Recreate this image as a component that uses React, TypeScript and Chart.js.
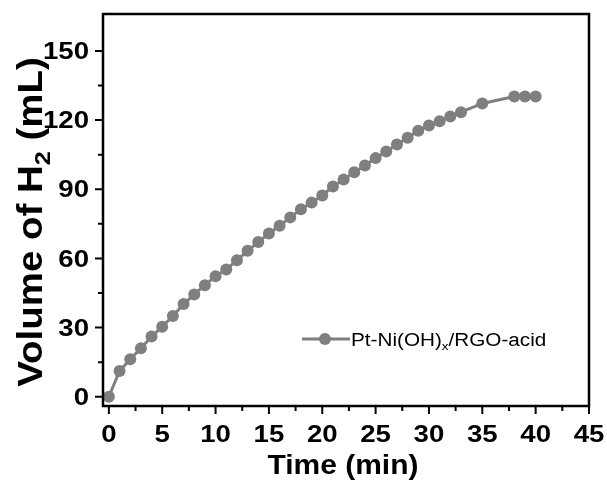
import React, { useEffect, useRef } from "react";
import { Chart, registerables } from "chart.js";

Chart.register(...registerables);

const timeMin: number[] = [0,1,2,3,4,5,6,7,8,9,10,11,12,13,14,15,16,17,18,19,20,21,22,23,24,25,26,27,28,29,30,31,32,33,35,38,39,40];
const volumeMl: number[] = [0,11.2,16.3,21,26.1,30.4,35,40.2,44.4,48.4,52.3,55.2,59.2,63.3,67.1,70.8,74.2,77.8,81.3,84.2,87.3,91.2,94.2,97.4,100.3,103.5,106.4,109.4,112.3,115.4,117.6,119.5,121.5,123.4,127.2,130.2,130.2,130.2];
const xTicks: number[] = [0,5,10,15,20,25,30,35,40,45];
const xMinorTicks: number[] = [2.5,7.5,12.5,17.5,22.5,27.5,32.5,37.5,42.5];
const yTicks: number[] = [0,30,60,90,120,150];
const yMinorTicks: number[] = [15,45,75,105,135];
const seriesLabel = ["Pt-Ni(OH)", "x", "/RGO-acid"];
const yTitleParts = ["Volume of H", "2", " (mL)"];
const xTitle = "Time (min)";

const FONT = '"Liberation Sans", Arial, sans-serif';
const GRAY = "#7f7f7f";

type Part = { t: string; sub?: boolean };

function richWidth(ctx: CanvasRenderingContext2D, parts: Part[], size: number, weight: string) {
  let w = 0;
  for (const p of parts) {
    ctx.font = `${weight} ${p.sub ? size * 0.65 : size}px ${FONT}`;
    w += ctx.measureText(p.t).width;
  }
  return w;
}

function drawRich(ctx: CanvasRenderingContext2D, parts: Part[], size: number, weight: string, x: number, baseline: number) {
  let cx = x;
  ctx.textBaseline = "alphabetic";
  ctx.textAlign = "left";
  for (const p of parts) {
    const s = p.sub ? size * 0.65 : size;
    ctx.font = `${weight} ${s}px ${FONT}`;
    ctx.fillText(p.t, cx, baseline + (p.sub ? size * 0.22 : 0));
    cx += ctx.measureText(p.t).width;
  }
}

// draws text aligned at (x, baseline) with a horizontal stretch factor
function stretchedText(ctx: CanvasRenderingContext2D, text: string, x: number, baseline: number, sx: number, align: CanvasTextAlign) {
  ctx.save();
  ctx.translate(x, baseline);
  ctx.scale(sx, 1);
  ctx.textAlign = align;
  ctx.textBaseline = "alphabetic";
  ctx.fillText(text, 0, 0);
  ctx.restore();
}

const framePlugin = {
  id: "frame",
  afterDraw(chart: any) {
    const { ctx, chartArea: a, scales } = chart;
    const x = scales.x;
    const y = scales.y;
    ctx.save();
    ctx.strokeStyle = "#000";
    ctx.lineWidth = 2.5;
    ctx.strokeRect(a.left, a.top, a.right - a.left, a.bottom - a.top);
    ctx.lineWidth = 2;
    ctx.beginPath();
    for (const v of xTicks) {
      const px = x.getPixelForValue(v);
      ctx.moveTo(px, a.bottom);
      ctx.lineTo(px, a.bottom + 8);
    }
    for (const v of xMinorTicks) {
      const px = x.getPixelForValue(v);
      ctx.moveTo(px, a.bottom);
      ctx.lineTo(px, a.bottom + 5);
    }
    for (const v of yTicks) {
      const py = y.getPixelForValue(v);
      ctx.moveTo(a.left, py);
      ctx.lineTo(a.left - 8, py);
    }
    for (const v of yMinorTicks) {
      const py = y.getPixelForValue(v);
      ctx.moveTo(a.left, py);
      ctx.lineTo(a.left - 5, py);
    }
    ctx.stroke();

    ctx.fillStyle = "#000";
    // tick labels
    const tick = 23;
    ctx.font = `bold ${tick}px ${FONT}`;
    for (const v of xTicks) {
      stretchedText(ctx, String(v), x.getPixelForValue(v), a.bottom + 36, 1.2, "center");
    }
    for (const v of yTicks) {
      stretchedText(ctx, String(v), a.left - 14, y.getPixelForValue(v) + tick * 0.358, 1.2, "right");
    }

    // x title
    const xs = 28;
    ctx.font = `bold ${xs}px ${FONT}`;
    stretchedText(ctx, xTitle, (a.left + a.right) / 2 - 3, 474, 1.07, "center");

    // y title
    const ys = 35;
    const yParts: Part[] = [{ t: yTitleParts[0] }, { t: yTitleParts[1], sub: true }, { t: yTitleParts[2] }];
    const yw = richWidth(ctx, yParts, ys, "bold");
    ctx.save();
    ctx.translate(42, 222);
    ctx.rotate(-Math.PI / 2);
    ctx.scale(1.1, 1);
    drawRich(ctx, yParts, ys, "bold", -yw / 2, 0);
    ctx.restore();

    // legend
    const ly = a.top + 325;
    const lx = a.left + 199;
    ctx.strokeStyle = GRAY;
    ctx.lineWidth = 3;
    ctx.beginPath();
    ctx.moveTo(lx, ly);
    ctx.lineTo(lx + 48, ly);
    ctx.stroke();
    ctx.fillStyle = GRAY;
    ctx.beginPath();
    ctx.arc(lx + 23, ly, 6, 0, Math.PI * 2);
    ctx.fill();
    ctx.fillStyle = "#000";
    const lParts: Part[] = [{ t: seriesLabel[0] }, { t: seriesLabel[1], sub: true }, { t: seriesLabel[2] }];
    ctx.save();
    ctx.translate(lx + 49, ly + 7);
    ctx.scale(1.15, 1);
    drawRich(ctx, lParts, 18, "normal", 0, 0);
    ctx.restore();
    ctx.restore();
  },
};

export default function App() {
  const ref = useRef<HTMLCanvasElement | null>(null);
  useEffect(() => {
    document.body.style.margin = "0";
    const canvas = ref.current!;
    const chart = new Chart(canvas, {
      type: "line",
      data: {
        datasets: [
          {
            label: seriesLabel.join(""),
            data: timeMin.map((t, i) => ({ x: t, y: volumeMl[i] })),
            borderColor: GRAY,
            backgroundColor: GRAY,
            borderWidth: 3,
            pointRadius: 6,
            pointBorderWidth: 0,
            pointBackgroundColor: GRAY,
            tension: 0,
          },
        ],
      },
      options: {
        animation: false,
        responsive: false,
        layout: { padding: { top: 14, right: 18, left: 0, bottom: 0 } },
        plugins: { legend: { display: false }, tooltip: { enabled: false } },
        scales: {
          x: {
            type: "linear",
            min: -0.55,
            max: 45,
            grid: { display: false, drawTicks: false },
            border: { display: false },
            afterBuildTicks: (s: any) => {
              s.ticks = xTicks.map((v) => ({ value: v }));
            },
            afterFit: (s: any) => {
              s.height = 81;
            },
            ticks: { display: false },
          },
          y: {
            type: "linear",
            min: -4,
            max: 166,
            grid: { display: false, drawTicks: false },
            border: { display: false },
            afterBuildTicks: (s: any) => {
              s.ticks = yTicks.map((v) => ({ value: v }));
            },
            afterFit: (s: any) => {
              s.width = 103;
            },
            ticks: { display: false },
          },
        },
      },
      plugins: [framePlugin],
    } as any);
    return () => chart.destroy();
  }, []);
  return <canvas ref={ref} width={607} height={487} style={{ display: "block", width: 607, height: 487 }} />;
}
